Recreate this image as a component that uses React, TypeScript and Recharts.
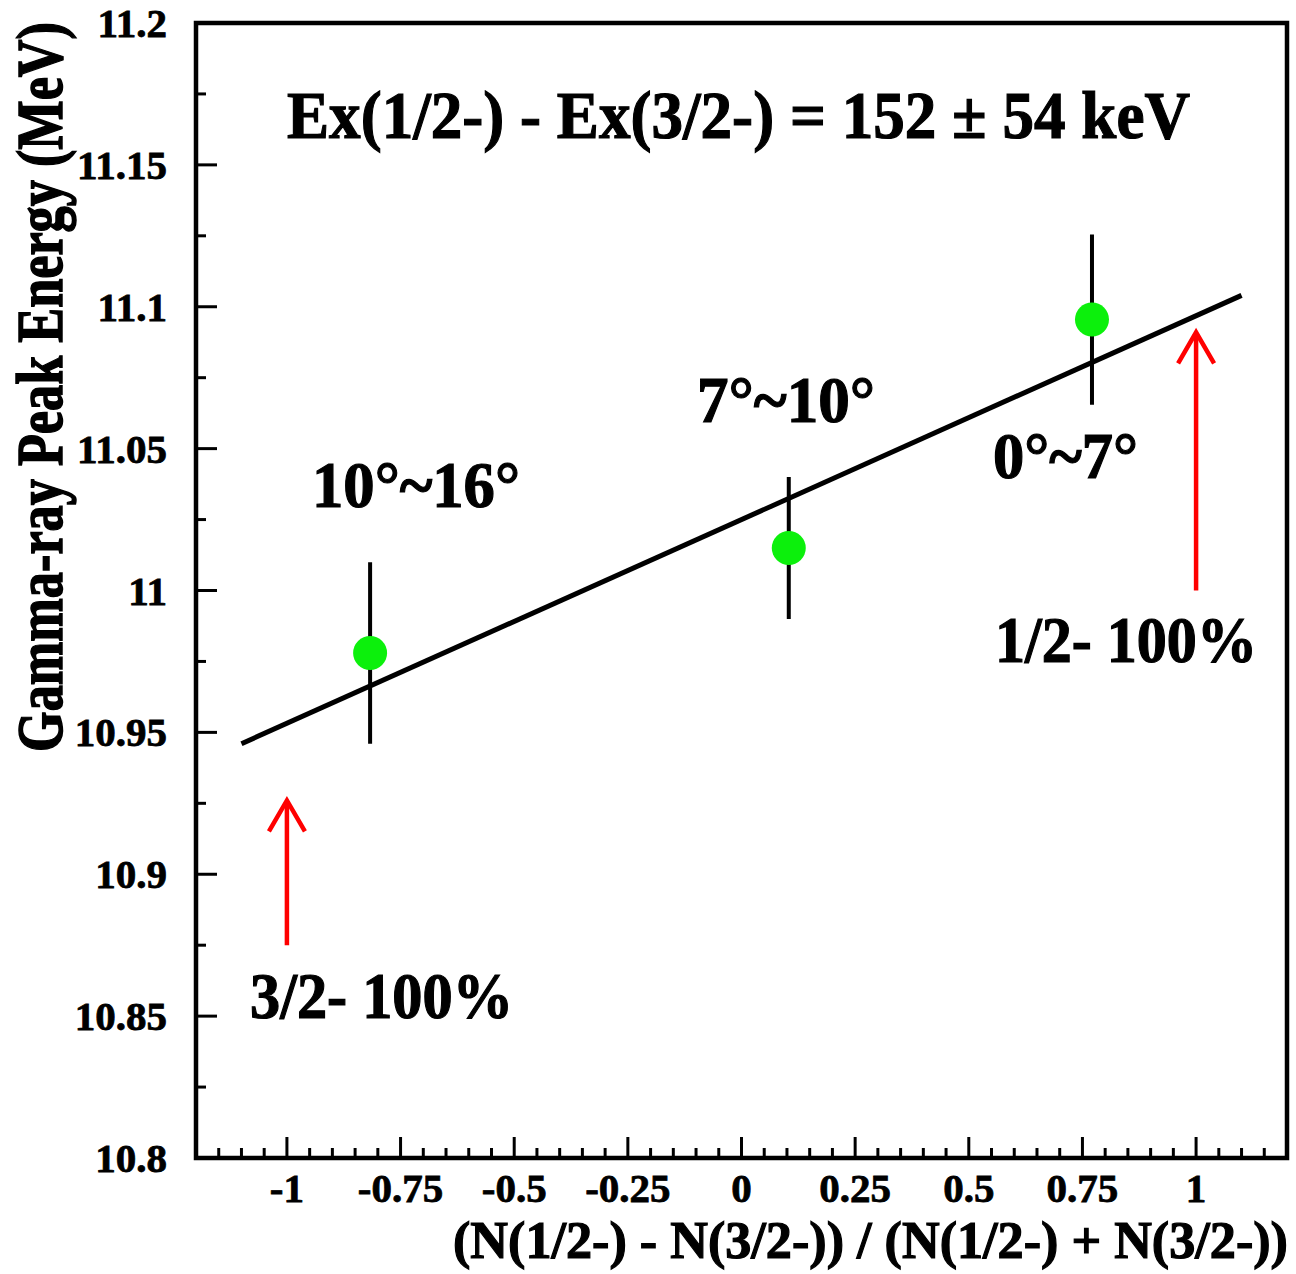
import React from 'react';
import {
  ComposedChart,
  XAxis,
  YAxis,
  Scatter,
  Line,
  ErrorBar,
  ReferenceLine,
  ReferenceArea,
} from 'recharts';

// ---- data ----
const pointX = [-0.817, 0.104, 0.771];
const pointY = [10.978, 11.015, 11.0955];
const pointErr = [0.032, 0.025, 0.03];
const angleLabels = ['10°~16°', '7°~10°', '0°~7°'];

const fitX = [-1.1, 1.1];
const fitY = [10.946, 11.104];

const arrowX = [-1, 1];
const arrowFrom = [10.875, 11.0];
const arrowTo = [10.926, 11.091];
const arrowLabels = ['3/2- 100%', '1/2- 100%'];

const xMajorTicks = [-1, -0.75, -0.5, -0.25, 0, 0.25, 0.5, 0.75, 1];
const xTickLabels = ['-1', '-0.75', '-0.5', '-0.25', '0', '0.25', '0.5', '0.75', '1'];
const xMinorTicks = [
  -1.2, -1.15, -1.1, -1.05, -0.95, -0.9, -0.85, -0.8, -0.7, -0.65, -0.6, -0.55,
  -0.45, -0.4, -0.35, -0.3, -0.2, -0.15, -0.1, -0.05, 0.05, 0.1, 0.15, 0.2,
  0.3, 0.35, 0.4, 0.45, 0.55, 0.6, 0.65, 0.7, 0.8, 0.85, 0.9, 0.95, 1.05, 1.1,
  1.15, 1.2,
];
const yMajorTicks = [10.8, 10.85, 10.9, 10.95, 11, 11.05, 11.1, 11.15, 11.2];
const yTickLabels = ['10.8', '10.85', '10.9', '10.95', '11', '11.05', '11.1', '11.15', '11.2'];
const yMinorTicks = [10.825, 10.875, 10.925, 10.975, 11.025, 11.075, 11.125, 11.175];

const titleText = 'Ex(1/2-) - Ex(3/2-) = 152 ± 54 keV';
const xTitle = '(N(1/2-) - N(3/2-)) / (N(1/2-) + N(3/2-))';
const yTitle = 'Gamma-ray Peak Energy (MeV)';

// ---- derived tables ----
const points = pointX.map((x, i) => ({ x, y: pointY[i], err: pointErr[i] }));
const fitData = fitX.map((x, i) => ({ x, y: fitY[i] }));
const xTicks = [...xMajorTicks, ...xMinorTicks].sort((a, b) => a - b);
const yTicks = [...yMajorTicks, ...yMinorTicks].sort((a, b) => a - b);

const FONT = '"Liberation Serif", "Times New Roman", Times, serif';

const XTick = (props: any) => {
  const { x, y, payload } = props;
  const v = payload.value;
  const idx = xMajorTicks.findIndex((t) => Math.abs(t - v) < 1e-6);
  const major = idx >= 0;
  return (
    <g>
      <line x1={x} x2={x} y1={y} y2={y - (major ? 21 : 10)} stroke="#000" strokeWidth={3} />
      {major && (
        <text
          x={x}
          y={y + 44}
          textAnchor="middle"
          fontFamily={FONT}
          fontWeight={700}
          fontSize={41}
          fill="#000"
          stroke="#000"
          strokeWidth={0.8}
        >
          {xTickLabels[idx]}
        </text>
      )}
    </g>
  );
};

const YTick = (props: any) => {
  const { x, y, payload } = props;
  const v = payload.value;
  const idx = yMajorTicks.findIndex((t) => Math.abs(t - v) < 1e-6);
  const major = idx >= 0;
  return (
    <g>
      <line x1={x} x2={x + (major ? 21 : 10)} y1={y} y2={y} stroke="#000" strokeWidth={3} />
      {major && (
        <text
          x={x - 29}
          y={y + 14}
          textAnchor="end"
          fontFamily={FONT}
          fontWeight={700}
          fontSize={41}
          fill="#000"
          stroke="#000"
          strokeWidth={0.8}
        >
          {yTickLabels[idx]}
        </text>
      )}
    </g>
  );
};

const Dot = (props: any) => {
  const { cx, cy } = props;
  return <circle cx={cx} cy={cy} r={17} fill="#0cf00c" />;
};

const ArrowShape = (props: any) => {
  const { x1, y1, x2, y2 } = props;
  const tipY = Math.min(y1, y2);
  const baseY = Math.max(y1, y2);
  const x = x1;
  return (
    <g>
      <line x1={x} x2={x} y1={baseY} y2={tipY + 2} stroke="#ff0000" strokeWidth={4.5} />
      <polyline
        points={`${x - 18},${tipY + 31} ${x},${tipY} ${x + 18},${tipY + 31}`}
        fill="none"
        stroke="#ff0000"
        strokeWidth={4.5}
      />
    </g>
  );
};

const textStyle = {
  fontFamily: FONT,
  fontWeight: 700,
  fill: '#000',
  stroke: '#000',
  strokeWidth: 1.2,
} as const;

export default function App() {
  return (
    <div style={{ position: 'absolute', left: 0, top: 0, width: 1296, height: 1274, background: '#fff' }}>
      <ComposedChart
        width={1296}
        height={1274}
        margin={{ top: 23, right: 9, bottom: 56, left: 96 }}
      >
        <XAxis
          type="number"
          dataKey="x"
          domain={[-1.2, 1.2]}
          ticks={xTicks}
          interval={0}
          tick={<XTick />}
          tickLine={false}
          axisLine={false}
          tickSize={0}
          tickMargin={0}
          height={60}
          allowDataOverflow
        />
        <YAxis
          type="number"
          dataKey="y"
          domain={[10.8, 11.2]}
          ticks={yTicks}
          interval={0}
          tick={<YTick />}
          tickLine={false}
          axisLine={false}
          tickSize={0}
          tickMargin={0}
          width={100}
          allowDataOverflow
        />
        <Line
          data={fitData}
          dataKey="y"
          stroke="#000"
          strokeWidth={5}
          dot={false}
          activeDot={false}
          isAnimationActive={false}
        />
        <Scatter data={points} dataKey="y" shape={<Dot />} isAnimationActive={false}>
          <ErrorBar dataKey="err" direction="y" width={0} stroke="#000" strokeWidth={4} isAnimationActive={false} />
        </Scatter>
        {arrowX.map((ax, i) => (
          <ReferenceLine
            key={i}
            segment={[
              { x: ax, y: arrowFrom[i] },
              { x: ax, y: arrowTo[i] },
            ]}
            shape={ArrowShape}
            ifOverflow="visible"
          />
        ))}
        <ReferenceArea
          x1={-1.2}
          x2={1.2}
          y1={10.8}
          y2={11.2}
          fill="none"
          fillOpacity={0}
          stroke="#000"
          strokeWidth={4.5}
          ifOverflow="visible"
        />
      </ComposedChart>
      <svg
        width={1296}
        height={1274}
        style={{ position: 'absolute', left: 0, top: 0, pointerEvents: 'none' }}
      >
        <text x={287} y={138} fontSize={68} textLength={903} lengthAdjust="spacingAndGlyphs" {...textStyle}>
          {titleText}
        </text>
        <text x={312} y={507} fontSize={65} textLength={208} lengthAdjust="spacingAndGlyphs" {...textStyle}>
          {angleLabels[0]}
        </text>
        <text x={697} y={422} fontSize={65} textLength={178} lengthAdjust="spacingAndGlyphs" {...textStyle}>
          {angleLabels[1]}
        </text>
        <text x={993} y={478} fontSize={65} textLength={145} lengthAdjust="spacingAndGlyphs" {...textStyle}>
          {angleLabels[2]}
        </text>
        <text x={250} y={1018} fontSize={65} textLength={263} lengthAdjust="spacingAndGlyphs" {...textStyle}>
          {arrowLabels[0]}
        </text>
        <text x={995} y={662} fontSize={65} textLength={262} lengthAdjust="spacingAndGlyphs" {...textStyle}>
          {arrowLabels[1]}
        </text>
        <text x={453} y={1258} fontSize={52} textLength={835} lengthAdjust="spacingAndGlyphs" {...textStyle}>
          {xTitle}
        </text>
        <g transform="translate(62,387) rotate(-90) scale(1,1.27)">
          <text
            x={0}
            y={0}
            textAnchor="middle"
            fontSize={52}
            textLength={730}
            lengthAdjust="spacingAndGlyphs"
            {...textStyle}
          >
            {yTitle}
          </text>
        </g>
      </svg>
    </div>
  );
}
